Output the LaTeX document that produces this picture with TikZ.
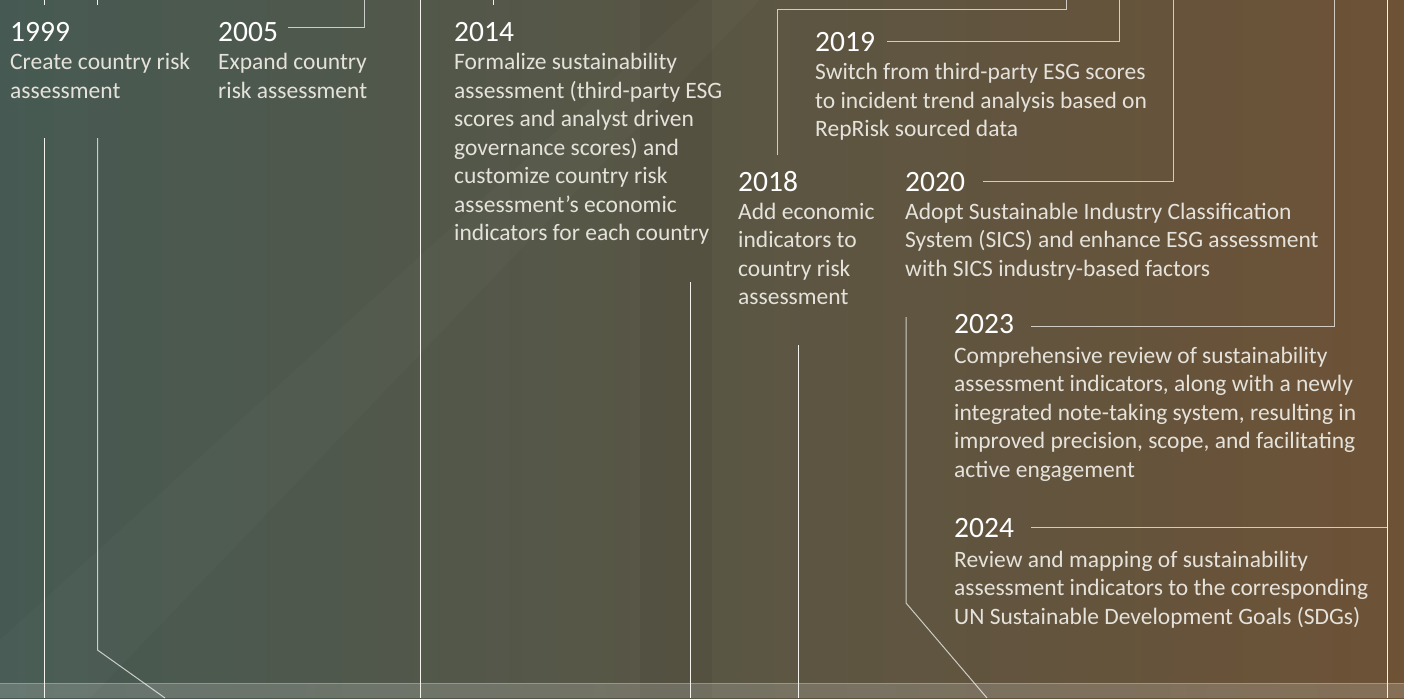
\documentclass[tikz,border=0pt]{standalone}
\usepackage{fontspec}
\setmainfont{Carlito}
\usetikzlibrary{calc}
\definecolor{bgL}{HTML}{465A53}
\definecolor{bgM}{HTML}{5A5847}
\definecolor{bgR}{HTML}{6D5236}
\definecolor{descC}{HTML}{E4E2DA}
\definecolor{lineC}{HTML}{F4F2EC}
\begin{document}
\begin{tikzpicture}[x=1pt,y=-1pt,
  conn/.style={draw=lineC, line width=1pt},
  connsoft/.style={draw=white, draw opacity=0.7, line width=1pt},
  year/.style={anchor=base west, inner sep=0pt, text=white, font=\fontsize{29.5}{32}\selectfont},
  desc/.style={anchor=base west, inner sep=0pt, text=descC, font=\fontsize{23.5}{28.5}\selectfont}]
\useasboundingbox (0,0) rectangle (1404,698);
% background
\shade[left color=bgL, middle color=bgM, right color=bgR] (0,0) rectangle (1404,698);
\fill[black, opacity=0.05] (640,0) rectangle (712,698);
\fill[white, opacity=0.02] (0,698) -- (0,640) -- (700,0) -- (760,0) -- (90,698) -- cycle;
% bottom band
\fill[white, opacity=0.17] (0,683) rectangle (1404,698);
\draw[white, opacity=0.25, line width=0.8pt] (0,683) -- (1404,683);

% years
\node[year] (y1999) at (10,42) {1999};
\node[year] (y2005) at (218,42) {2005};
\node[year] (y2014) at (454,42) {2014};
\node[year] (y2019) at (815,52) {2019};
\node[year] (y2018) at (738,191) {2018};
\node[year] (y2020) at (905,191) {2020};
\node[year] (y2023) at (954,333) {2023};
\node[year] (y2024) at (954,537) {2024};

% descriptions
\node[desc] (d1999) at (10,70) {\begin{tabular}[t]{@{}l@{}}Create country risk\\assessment\end{tabular}};
\node[desc] (d2005) at (218,70) {\begin{tabular}[t]{@{}l@{}}Expand country\\risk assessment\end{tabular}};
\node[desc] (d2014) at (454,70) {\begin{tabular}[t]{@{}l@{}}Formalize sustainability\\assessment (third-party ESG\\scores and analyst driven\\governance scores) and\\customize country risk\\assessment’s economic\\indicators for each country\end{tabular}};
\node[desc] (d2019) at (815,80) {\begin{tabular}[t]{@{}l@{}}Switch from third-party ESG scores\\to incident trend analysis based on\\RepRisk sourced data\end{tabular}};
\node[desc] (d2018) at (738,219) {\begin{tabular}[t]{@{}l@{}}Add economic\\indicators to\\country risk\\assessment\end{tabular}};
\node[desc] (d2020) at (905,219) {\begin{tabular}[t]{@{}l@{}}Adopt Sustainable Industry Classification\\System (SICS) and enhance ESG assessment\\with SICS industry-based factors\end{tabular}};
\node[desc] (d2023) at (954,363) {\begin{tabular}[t]{@{}l@{}}Comprehensive review of sustainability\\assessment indicators, along with a newly\\integrated note-taking system, resulting in\\improved precision, scope, and facilitating\\active engagement\end{tabular}};
\node[desc] (d2024) at (954,567) {\begin{tabular}[t]{@{}l@{}}Review and mapping of sustainability\\assessment indicators to the corresponding\\UN Sustainable Development Goals (SDGs)\end{tabular}};

% connector coordinates
\coordinate (t44a) at (44,0);   \coordinate (t44b) at (44,5);
\coordinate (t97a) at (97.5,0); \coordinate (t97b) at (97.5,5);
\coordinate (t493a) at (493,0); \coordinate (t493b) at (493,5);
\coordinate (c05a) at (288,28); \coordinate (c05b) at (364,28); \coordinate (c05c) at (364,0);
\coordinate (c14a) at (420,0);  \coordinate (c14b) at (420,698);
\coordinate (c18a) at (777,155); \coordinate (c18b) at (777,10); \coordinate (c18c) at (1066,10); \coordinate (c18d) at (1066,0);
\coordinate (c19a) at (887,42); \coordinate (c19b) at (1119,42); \coordinate (c19c) at (1119,0);
\coordinate (c20a) at (983,181); \coordinate (c20b) at (1173,181); \coordinate (c20c) at (1173,0);
\coordinate (c23a) at (1031,326); \coordinate (c23b) at (1334,326); \coordinate (c23c) at (1334,0);
\coordinate (c24a) at (1031,527); \coordinate (c24b) at (1387,527);
\coordinate (r0) at (1387,0); \coordinate (r1) at (1387,698);
\coordinate (b44a) at (44,138); \coordinate (b44b) at (44,698);
\coordinate (b97a) at (97.5,138); \coordinate (b97b) at (97.5,650); \coordinate (b97c) at (165,698);
\coordinate (b690a) at (690,282); \coordinate (b690b) at (690,698);
\coordinate (b798a) at (798,345); \coordinate (b798b) at (798,698);
\coordinate (b906a) at (906,317); \coordinate (b906b) at (906,603); \coordinate (b906c) at (987,698);

% connectors
\draw[conn] (t44a) -- (t44b);
\draw[conn] (t97a) -- (t97b);
\draw[conn] (t493a) -- (t493b);
\draw[connsoft] (c05a) -- (c05b) -- (c05c);
\draw[conn] (c14a) -- (c14b);
\draw[connsoft] (c18a) -- (c18b) -- (c18c) -- (c18d);
\draw[connsoft] (c19a) -- (c19b) -- (c19c);
\draw[connsoft] (c20a) -- (c20b) -- (c20c);
\draw[connsoft] (c23a) -- (c23b) -- (c23c);
\draw[connsoft] (c24a) -- (c24b);
\draw[conn] (r0) -- (r1);
\draw[conn] (b44a) -- (b44b);
\draw[connsoft] (b97a) -- (b97b) -- (b97c);
\draw[conn] (b690a) -- (b690b);
\draw[conn] (b798a) -- (b798b);
\draw[connsoft] (b906a) -- (b906b) -- (b906c);
\end{tikzpicture}
\end{document}
